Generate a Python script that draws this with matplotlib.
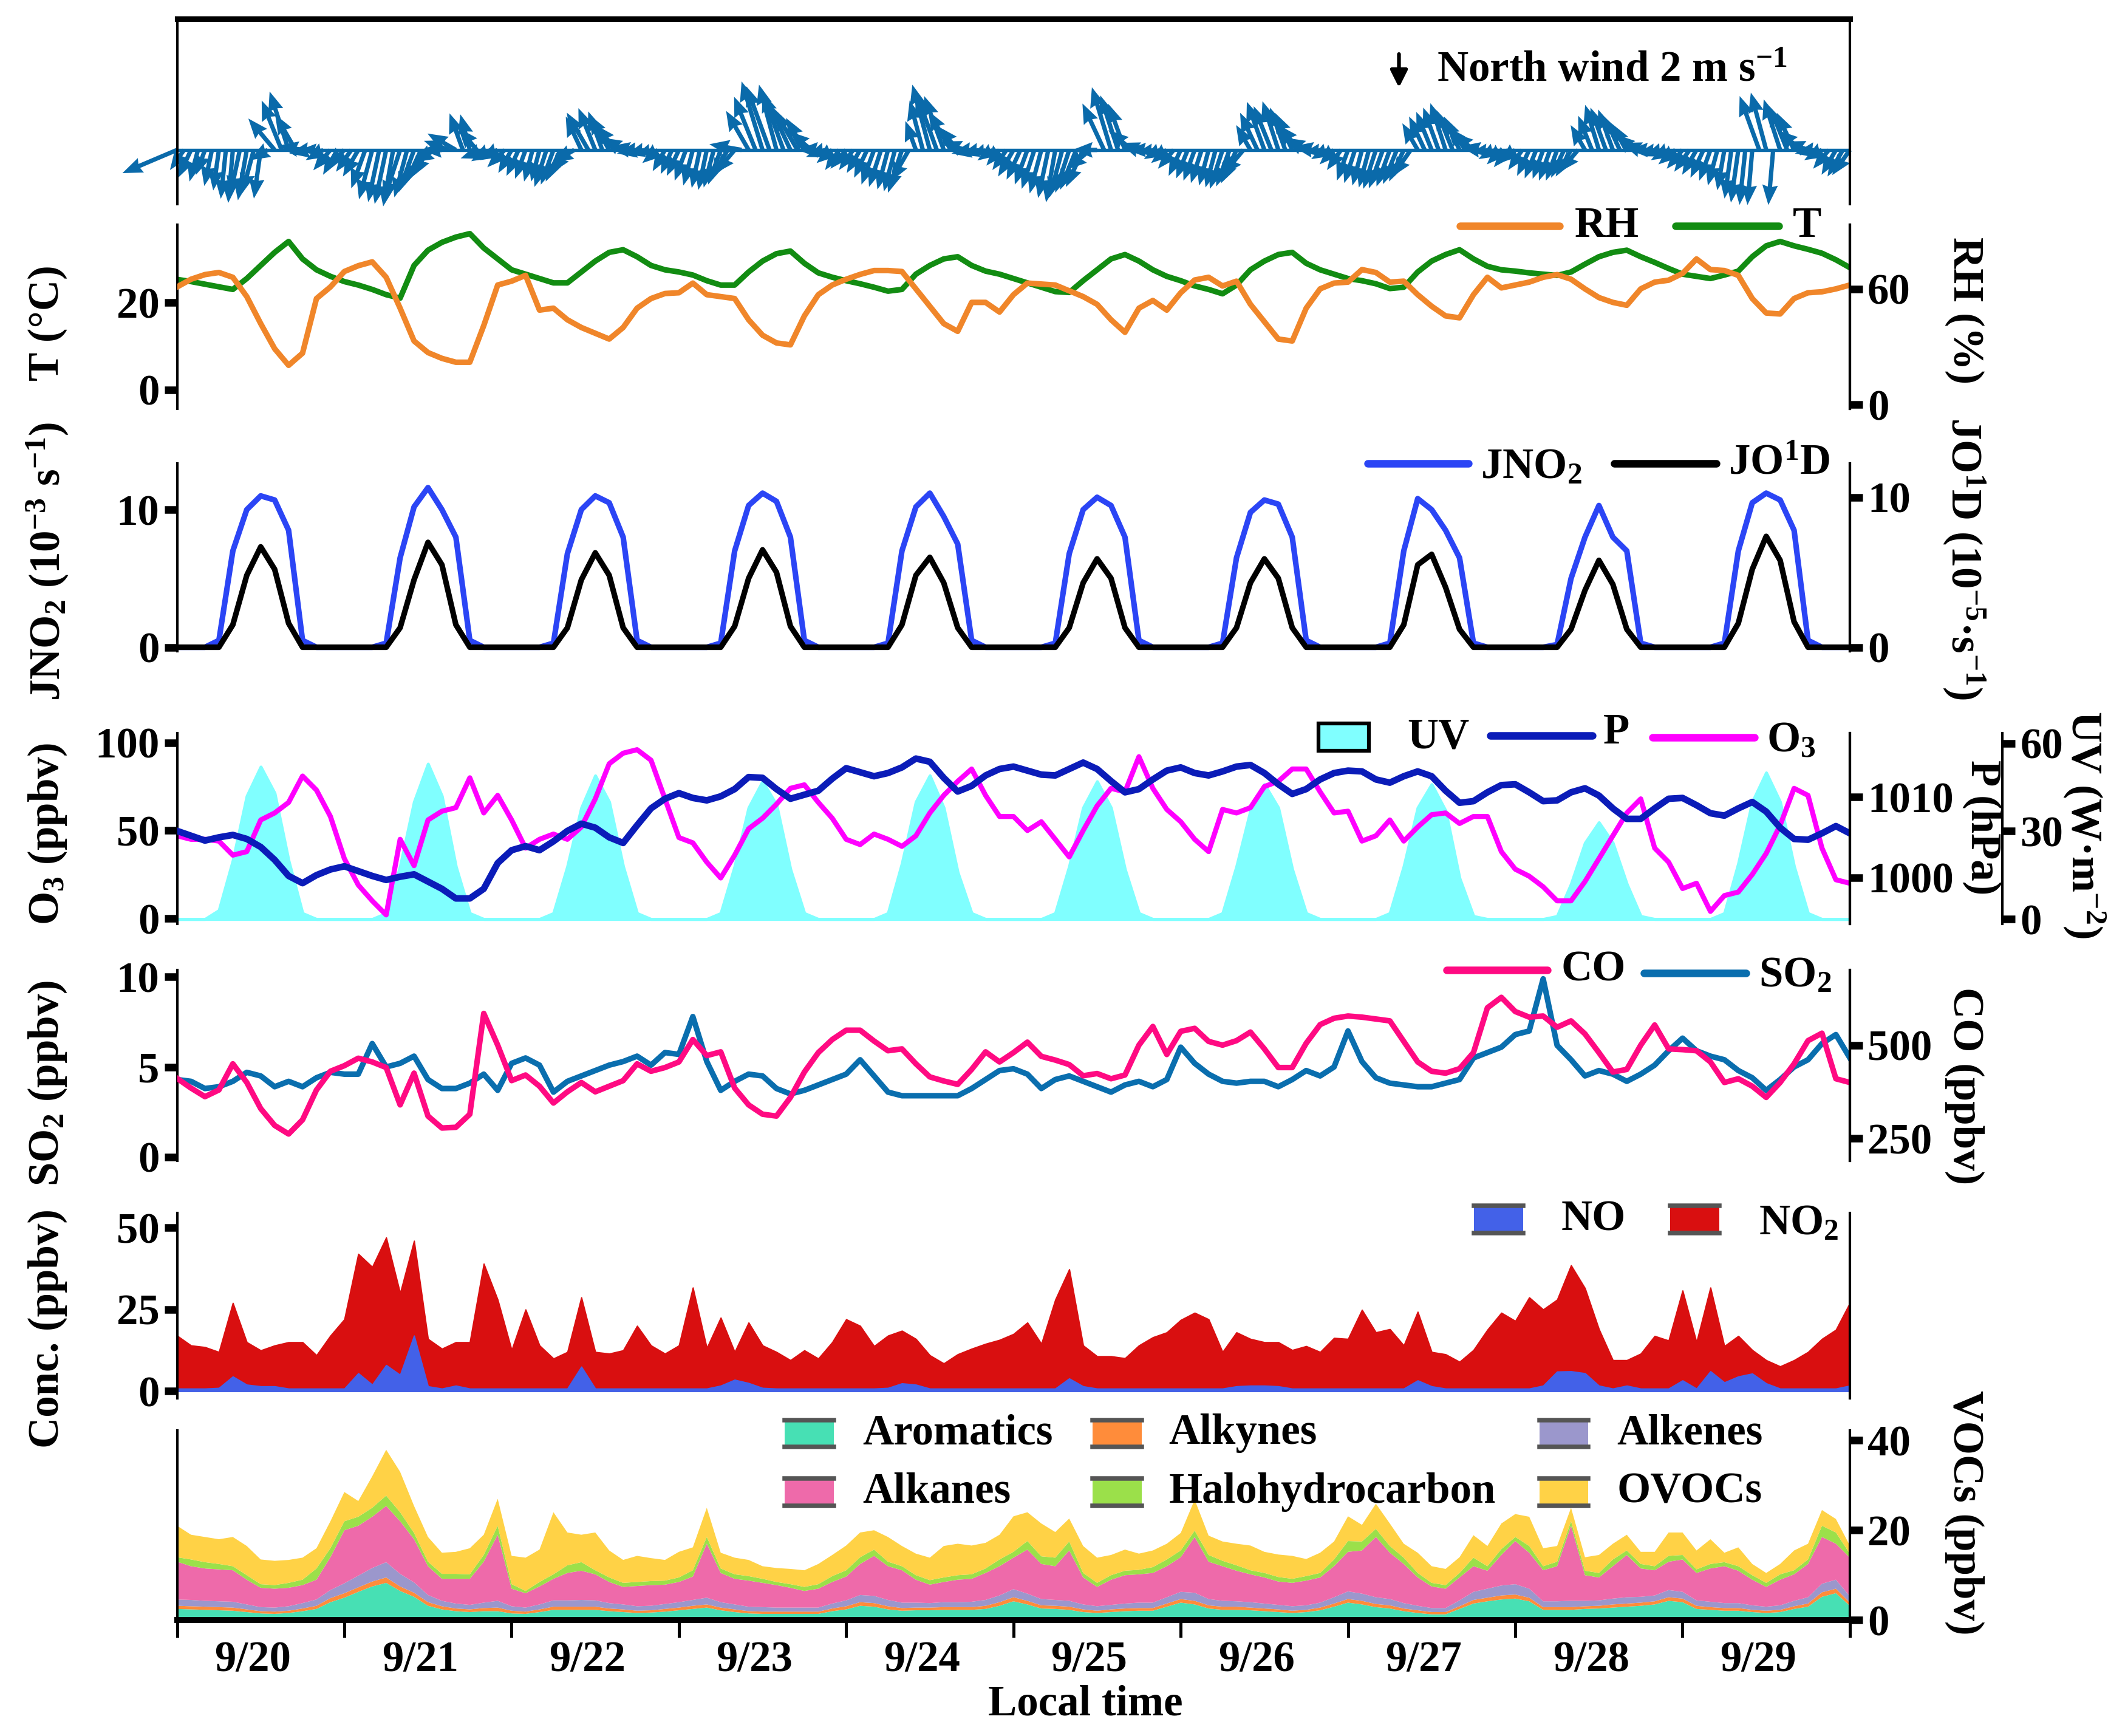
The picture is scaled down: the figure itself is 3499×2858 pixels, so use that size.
import numpy as np
import matplotlib
matplotlib.use('Agg')
import matplotlib.pyplot as plt
from matplotlib.lines import Line2D
from matplotlib.patches import Rectangle, FancyArrowPatch
from matplotlib.transforms import ScaledTranslation

plt.rcParams['font.family'] = 'Liberation Serif'
plt.rcParams['font.weight'] = 'bold'
plt.rcParams['font.size'] = 17
plt.rcParams['mathtext.fontset'] = 'custom'
plt.rcParams['mathtext.rm'] = 'Liberation Serif:bold'
plt.rcParams['mathtext.it'] = 'Liberation Serif:italic:bold'
plt.rcParams['mathtext.bf'] = 'Liberation Serif:bold'
plt.rcParams['axes.linewidth'] = 1.0

# ==================
# Data (hours since 9/20 00:00; wind hourly, the rest 2-hourly)
# ==================
t = np.arange(0, 241, 2)
t_w = np.arange(0, 241, 1)
days = ['9/20', '9/21', '9/22', '9/23', '9/24', '9/25', '9/26', '9/27', '9/28', '9/29']

# wind speed (m/s) and direction (deg, blowing from)
ws = [2.9, 1.2, 1.5, 1.6, 1.3, 1.8, 2.0, 2.4, 2.6, 2.3, 2.5, 2.2, 2.4, 1.0, 2.0, 2.6, 3.0, 2.0, 1.2, 1.0, 0.8, 1.0, 1.3, 1.4,
      1.2, 1.3, 1.5, 2.0, 2.5, 2.6, 2.7, 2.8, 2.6, 2.4, 2.2, 1.8, 1.5, 1.2, 1.0, 1.3, 1.6, 1.9, 1.8, 1.4, 1.2, 1.1, 1.0, 1.2,
      1.3, 1.4, 1.5, 1.6, 1.6, 1.9, 1.8, 1.7, 1.4, 1.2, 1.8, 2.1, 2.2, 2.0, 2.0, 1.6, 1.2, 1.0, 1.0, 0.9, 0.8, 1.0, 1.2, 1.3,
      1.4, 1.6, 1.8, 1.9, 2.0, 1.9, 1.8, 1.6, 1.5, 1.6, 2.2, 2.8, 3.5, 3.3, 3.3, 3.0, 2.5, 2.2, 1.8, 1.4, 1.0, 1.0, 1.0, 1.2,
      1.2, 1.2, 1.3, 1.5, 1.8, 1.9, 2.0, 2.1, 2.2, 1.8, 1.5, 2.5, 3.3, 3.0, 2.8, 2.2, 1.5, 1.2, 1.0, 0.9, 0.8, 0.9, 1.0, 1.2,
      1.5, 1.6, 1.8, 2.0, 2.2, 2.4, 2.6, 2.4, 2.2, 2.1, 2.0, 1.5, 1.2, 2.5, 3.2, 2.8, 2.4, 1.5, 1.0, 0.9, 0.8, 0.9, 1.0, 1.2,
      1.4, 1.5, 1.6, 1.7, 1.8, 1.9, 2.0, 1.9, 1.8, 1.6, 1.4, 2.0, 2.5, 2.3, 2.5, 2.2, 2.0, 1.6, 1.2, 1.0, 0.8, 0.9, 1.0, 1.2,
      1.6, 1.7, 1.8, 1.9, 2.0, 2.0, 1.9, 1.8, 1.7, 1.6, 1.5, 1.8, 2.0, 2.2, 2.4, 2.1, 1.8, 1.5, 1.3, 1.0, 0.8, 0.9, 1.0, 1.1,
      1.0, 1.2, 1.4, 1.5, 1.5, 1.6, 1.6, 1.5, 1.5, 1.4, 1.4, 1.8, 2.3, 2.2, 2.1, 1.8, 1.5, 1.2, 1.0, 0.9, 0.8, 0.9, 1.0, 1.1,
      1.2, 1.3, 1.4, 1.5, 1.6, 1.8, 2.0, 2.4, 2.6, 2.7, 2.7, 2.8, 2.9, 2.7, 2.6, 2.3, 2.0, 1.5, 1.2, 1.0, 1.0, 1.2, 1.4, 1.5,
      1.5]
wd = [67, 35, 25, 15, 20, 12, 8, 6, 5, 12, 10, 15, 8, 60, 140, 158, 162, 150, 100, 80, 90, 60, 40, 30,
      45, 35, 30, 20, 15, 12, 12, 10, 18, 15, 20, 25, 30, 60, 90, 110, 120, 160, 165, 140, 70, 60, 60, 45,
      30, 25, 20, 15, 15, 18, 20, 25, 35, 60, 155, 150, 158, 160, 150, 140, 120, 100, 80, 75, 70, 50, 30, 25,
      25, 20, 15, 12, 12, 15, 20, 30, 40, 100, 150, 158, 163, 160, 165, 160, 155, 150, 150, 130, 90, 70, 50, 35,
      40, 35, 30, 25, 20, 18, 15, 15, 18, 30, 160, 165, 165, 160, 160, 150, 140, 110, 80, 75, 70, 55, 40, 35,
      30, 25, 20, 18, 15, 12, 10, 15, 18, 22, 25, 50, 90, 155, 163, 162, 160, 130, 110, 90, 80, 60, 50, 40,
      25, 22, 20, 18, 15, 15, 18, 20, 25, 40, 150, 155, 160, 158, 162, 160, 155, 140, 120, 100, 80, 60, 45, 35,
      20, 18, 15, 15, 18, 20, 20, 22, 25, 35, 150, 155, 158, 160, 162, 158, 155, 140, 130, 100, 80, 60, 45, 40,
      50, 35, 25, 22, 20, 20, 20, 25, 30, 40, 150, 158, 163, 160, 160, 155, 150, 130, 110, 90, 80, 70, 60, 50,
      40, 35, 30, 25, 20, 15, 10, 8, 8, 6, 5, 160, 165, 5, 162, 158, 155, 130, 110, 80, 60, 40, 30, 30,
      35]

temp = [25.3, 24.8, 24.2, 23.6, 23.0, 25.5, 28.5, 31.5, 34.0, 30.0, 27.5, 26.0,
        24.8, 24.0, 23.0, 21.8, 21.0, 28.5, 32.0, 33.8, 35.0, 35.8, 32.5, 30.0,
        27.5, 26.5, 25.5, 24.5, 24.5, 27.0, 29.5, 31.5, 32.1, 30.5, 28.5, 27.5,
        27.0, 26.3, 25.0, 24.0, 24.0, 27.0, 29.5, 31.2, 31.8, 29.0, 26.8, 25.8,
        25.0, 24.3, 23.5, 22.6, 23.0, 26.5, 28.5, 30.0, 30.5, 28.5, 27.2, 26.5,
        25.5, 24.5, 23.5, 22.5, 22.3, 25.0, 27.5, 30.0, 31.0, 29.5, 27.5, 26.0,
        25.0, 23.8, 23.0, 22.0, 24.0, 27.5, 29.5, 31.0, 31.5, 29.0, 27.5, 26.5,
        25.5, 25.0, 24.3, 23.2, 23.5, 27.0, 29.5, 31.0, 32.1, 30.0, 28.3, 27.5,
        27.2, 26.8, 26.5, 26.2, 27.0, 28.8, 30.5, 31.5, 32.0, 30.5, 29.2, 27.8,
        26.5, 26.0, 25.5, 26.3, 27.2, 30.5, 33.0, 34.0, 33.0, 32.2, 31.3, 29.8, 28.0]
rh = [61, 65, 67.4, 68.5, 66, 56, 42, 29, 20.4, 26.7, 55, 61,
      69, 72, 74, 66, 50, 33, 27, 24, 22, 22, 41, 62,
      64, 67, 49, 50, 44, 40, 37, 34, 40, 50, 55, 57.6,
      58, 63, 57, 56, 55, 44, 36, 32, 31, 46, 57, 62,
      65, 67.5, 69.5, 69.5, 69, 60, 51, 42, 38, 53, 53, 48,
      57, 63, 62.5, 62, 59, 56, 52, 44, 37.5, 50, 54, 49,
      58, 64.6, 66, 61.5, 64, 52, 43, 34, 33, 50, 60, 63,
      63.5, 70, 68.5, 63.5, 64, 57, 51, 46, 45, 57, 66, 60.5,
      62, 63.5, 66, 67.4, 65, 60, 55.5, 53, 51.5, 60, 63.5, 64.5,
      68, 75.5, 70, 69.5, 67, 55, 47.5, 47, 55, 58, 58.5, 60, 62]

jno2 = [0, 0, 0, 0.5, 7.0, 10.0, 11.0, 10.7, 8.5, 0.5, 0, 0,
        0, 0, 0, 0.3, 6.5, 10.2, 11.6, 10.0, 8.0, 0.5, 0, 0,
        0, 0, 0, 0.3, 6.8, 10.0, 11.0, 10.5, 8.0, 0.5, 0, 0,
        0, 0, 0, 0.3, 7.0, 10.3, 11.2, 10.6, 8.0, 0.5, 0, 0,
        0, 0, 0, 0.3, 7.0, 10.2, 11.2, 9.5, 7.5, 0.5, 0, 0,
        0, 0, 0, 0.3, 6.8, 10.0, 10.9, 10.3, 8.0, 0.5, 0, 0,
        0, 0, 0, 0.3, 6.5, 9.8, 10.7, 10.4, 8.0, 0.5, 0, 0,
        0, 0, 0, 0.3, 7.0, 10.8, 10.0, 8.5, 6.5, 0.3, 0, 0,
        0, 0, 0, 0.2, 5.0, 8.0, 10.3, 8.0, 7.0, 0.3, 0, 0,
        0, 0, 0, 0.3, 7.0, 10.5, 11.2, 10.7, 8.5, 0.5, 0, 0, 0]
jo1d = [0, 0, 0, 0, 1.5, 4.8, 6.7, 5.2, 1.6, 0, 0, 0,
        0, 0, 0, 0, 1.3, 4.5, 7.0, 5.5, 1.5, 0, 0, 0,
        0, 0, 0, 0, 1.3, 4.5, 6.3, 4.8, 1.3, 0, 0, 0,
        0, 0, 0, 0, 1.4, 4.6, 6.5, 5.0, 1.4, 0, 0, 0,
        0, 0, 0, 0, 1.5, 4.8, 6.0, 4.3, 1.3, 0, 0, 0,
        0, 0, 0, 0, 1.3, 4.3, 5.9, 4.6, 1.3, 0, 0, 0,
        0, 0, 0, 0, 1.3, 4.3, 5.9, 4.6, 1.3, 0, 0, 0,
        0, 0, 0, 0, 1.5, 5.5, 6.2, 4.0, 1.2, 0, 0, 0,
        0, 0, 0, 0, 1.2, 3.8, 5.8, 4.2, 1.2, 0, 0, 0,
        0, 0, 0, 0, 1.6, 5.2, 7.4, 5.8, 1.7, 0, 0, 0, 0]

uv = [0, 0, 0, 3, 20, 42, 52, 43, 20, 2, 0, 0,
      0, 0, 0, 2, 18, 40, 53, 42, 18, 2, 0, 0,
      0, 0, 0, 2, 18, 38, 49, 40, 18, 2, 0, 0,
      0, 0, 0, 2, 18, 38, 47, 39, 17, 2, 0, 0,
      0, 0, 0, 2, 19, 40, 49, 38, 16, 2, 0, 0,
      0, 0, 0, 2, 18, 38, 47, 38, 17, 2, 0, 0,
      0, 0, 0, 2, 18, 37, 46, 38, 17, 2, 0, 0,
      0, 0, 0, 2, 18, 38, 46, 37, 14, 1, 0, 0,
      0, 0, 0, 1, 12, 26, 33, 26, 12, 1, 0, 0,
      0, 0, 0, 2, 19, 40, 50, 40, 18, 2, 0, 0, 0]
pres = [1005.8, 1005.2, 1004.6, 1005.0, 1005.3, 1004.8, 1003.8, 1002.2, 1000.2, 999.3, 1000.3, 1001.0,
        1001.4, 1000.8, 1000.2, 999.7, 1000.1, 1000.4, 999.5, 998.6, 997.4, 997.4, 998.6, 1001.8,
        1003.4, 1003.9, 1003.4, 1004.5, 1005.8, 1006.7, 1006.2, 1005.0, 1004.3, 1006.5, 1008.6, 1009.8,
        1010.5, 1009.9, 1009.6, 1010.1, 1011.0, 1012.5, 1012.4, 1011.0, 1009.8, 1010.3, 1010.8, 1012.3,
        1013.6, 1013.1, 1012.6, 1013.0, 1013.7, 1014.8, 1014.4, 1012.4, 1010.7, 1011.4, 1012.7, 1013.5,
        1013.8, 1013.3, 1012.8, 1012.7, 1013.5, 1014.3, 1013.5, 1012.0, 1010.6, 1011.0, 1012.2, 1013.3,
        1013.7, 1013.0, 1012.7, 1013.2, 1013.8, 1014.0, 1013.0, 1011.6, 1010.4, 1011.0, 1012.2, 1013.0,
        1013.3, 1013.2, 1012.2, 1011.8, 1012.6, 1013.2, 1012.6, 1010.8, 1009.3, 1009.5, 1010.6, 1011.5,
        1011.6, 1010.6, 1009.5, 1009.6, 1010.6, 1011.1, 1010.2, 1008.6, 1007.3, 1007.3, 1008.6, 1009.8,
        1009.9, 1009.0, 1008.0, 1007.7, 1008.6, 1009.4, 1008.2, 1006.2, 1004.8, 1004.7, 1005.5, 1006.4, 1005.5]
o3 = [47, 45, 45, 44, 36, 38, 56, 60, 66, 81, 73, 58,
      34, 19, 10, 2, 45, 30, 56, 61, 63, 80, 60, 70,
      56, 40, 45, 48, 45, 52, 68, 88, 94, 96, 90, 68,
      46, 43, 32, 23, 36, 51, 57, 65, 74, 76, 66, 57,
      45, 42, 48, 45, 41, 47, 60, 70, 78, 85, 70, 58,
      58, 50, 55, 45, 35, 50, 64, 74, 72, 92, 74, 62,
      55, 45, 38, 62, 60, 63, 75, 78, 85, 85, 72, 60,
      61, 44, 47, 56, 44, 52, 59, 60, 54, 58, 58, 38,
      28, 24, 18, 10, 10, 21, 34, 47, 60, 68, 40, 32,
      17, 20, 4, 13, 15, 25, 37, 53, 74, 70, 40, 22, 20]

so2 = [4.3, 4.2, 3.8, 3.9, 4.2, 4.7, 4.5, 3.9, 4.2, 3.9, 4.4, 4.7,
       4.6, 4.6, 6.3, 5.0, 5.2, 5.6, 4.3, 3.8, 3.8, 4.1, 4.6, 3.7,
       5.2, 5.5, 5.1, 3.6, 4.2, 4.5, 4.8, 5.1, 5.3, 5.6, 5.1, 5.8,
       5.7, 7.8, 5.3, 3.7, 4.2, 4.6, 4.5, 3.8, 3.5, 3.7, 4.0, 4.3,
       4.6, 5.4, 4.5, 3.6, 3.4, 3.4, 3.4, 3.4, 3.4, 3.8, 4.3, 4.8,
       4.9, 4.6, 3.8, 4.3, 4.5, 4.2, 3.9, 3.6, 4.0, 4.2, 3.9, 4.3,
       6.1, 5.2, 4.6, 4.2, 4.1, 4.2, 4.2, 3.9, 4.3, 4.8, 4.5, 5.0,
       7.0, 5.3, 4.4, 4.1, 4.0, 3.9, 3.9, 4.1, 4.3, 5.5, 5.8, 6.1,
       6.8, 7.0, 9.9, 6.2, 5.4, 4.5, 4.8, 4.6, 4.2, 4.6, 5.1, 5.9,
       6.6, 5.9, 5.6, 5.4, 4.8, 4.4, 3.7, 4.3, 5.0, 5.4, 6.3, 6.8, 5.5]
co = [411, 385, 362, 380, 450, 400, 330, 285, 262, 300, 380, 430,
      445, 465, 455, 440, 340, 425, 310, 278, 280, 315, 585, 500,
      405, 420, 390, 345, 375, 400, 375, 390, 405, 450, 430, 440,
      455, 515, 472, 482, 385, 340, 315, 310, 360, 428, 480, 515,
      540, 540, 511, 485, 490, 450, 415, 404, 395, 435, 482, 455,
      480, 508, 470, 460, 448, 418, 424, 410, 420, 500, 550, 475,
      537, 545, 510, 500, 512, 535, 490, 440, 440, 505, 555, 572,
      578, 575, 570, 565, 510, 455, 430, 425, 437, 480, 600, 628,
      590, 575, 578, 548, 565, 530, 480, 428, 435, 500, 554, 490,
      488, 485, 455, 400, 410, 390, 360, 400, 450, 512, 532, 410, 400]

no2 = [17, 14, 13.5, 12, 27, 15, 12.5, 14, 15, 15, 11, 17,
       22, 42, 38, 47, 30, 46, 16, 13, 15, 15, 39, 28,
       12.6, 25, 14, 10, 12, 28.7, 12, 11.5, 12.5, 20, 14, 11.5,
       14, 31.7, 13.2, 22.5, 12, 21, 14, 12, 9.5, 12.5, 10, 15,
       22, 20, 13.8, 17, 18.5, 16, 11, 8.5, 11.3, 13, 14.5, 15.7,
       17.5, 21, 14.5, 28, 37.3, 14, 10.7, 10.7, 10.1, 14, 16.5, 18,
       21.8, 24, 22, 12, 18, 16, 15, 15, 12.6, 13.8, 12, 16.3,
       16, 24.9, 18, 19, 14, 24.3, 12, 11.3, 9, 12.6, 18.8, 24,
       21.5, 28.7, 25, 28, 38.5, 31.5, 19, 9.5, 9.5, 11.5, 16.9, 15.5,
       30.8, 15, 31.7, 13.8, 16.9, 12.6, 9.5, 7.6, 9.5, 12, 16, 18.8, 27]
no = [0.8, 0.8, 0.8, 1.0, 4.5, 2.0, 1.5, 1.5, 0.8, 0.8, 0.8, 0.8,
      0.8, 5.5, 2.0, 8.0, 5.0, 17.0, 1.5, 0.8, 1.7, 0.8, 0.8, 0.8,
      0.8, 0.8, 0.8, 0.8, 0.8, 7.5, 0.8, 0.8, 0.8, 0.8, 0.8, 0.8,
      0.8, 0.8, 0.8, 1.7, 3.5, 2.5, 1.0, 0.8, 0.8, 0.8, 0.8, 0.8,
      0.8, 0.8, 0.8, 1.0, 2.4, 2.0, 0.8, 0.8, 0.8, 0.8, 0.8, 0.8,
      0.8, 0.8, 0.8, 0.8, 3.9, 1.5, 0.8, 0.8, 0.8, 0.8, 0.8, 0.8,
      0.8, 0.8, 0.8, 0.8, 1.5, 1.7, 1.7, 1.5, 0.8, 0.8, 0.8, 0.8,
      0.8, 0.8, 0.8, 0.8, 0.8, 3.3, 1.5, 0.8, 0.8, 0.8, 0.8, 0.8,
      0.8, 0.8, 1.7, 6.0, 6.1, 5.5, 1.7, 0.8, 1.7, 0.8, 0.8, 0.8,
      3.3, 0.8, 6.1, 2.7, 4.5, 5.4, 2.4, 0.8, 0.8, 0.8, 0.8, 0.8, 1.7]

aromatics = [2.5, 2.4, 2.3, 2.2, 2.1, 1.8, 1.5, 1.4, 1.6, 2.0, 2.5, 4.0,
             5.0, 6.3, 7.5, 8.3, 6.5, 5.2, 3.2, 2.4, 2.0, 1.8, 2.0, 2.0,
             1.5, 1.4, 1.8, 2.3, 2.3, 2.3, 2.3, 2.0, 1.8, 1.6, 1.7, 1.9,
             2.2, 2.5, 2.8, 2.2, 1.8, 1.5, 1.4, 1.4, 1.4, 1.4, 1.4, 2.0,
             2.4, 3.2, 3.0, 2.4, 2.1, 2.2, 2.2, 2.3, 2.3, 2.3, 2.5, 3.2,
             4.2, 3.5, 2.6, 2.5, 2.3, 1.8, 1.6, 1.8, 2.0, 2.1, 2.1, 3.0,
             3.9, 3.5, 2.6, 2.3, 2.3, 2.2, 2.0, 1.8, 1.6, 1.8, 2.2, 3.0,
             3.9, 3.5, 2.9, 2.6, 2.0, 1.6, 1.3, 1.3, 2.5, 3.7, 4.2, 4.6,
             4.8, 4.2, 2.3, 2.3, 2.3, 2.5, 2.6, 2.8, 3.0, 3.2, 3.5, 4.3,
             4.0, 2.5, 2.3, 2.1, 2.1, 1.8, 1.6, 1.8, 2.5, 3.0, 5.2, 6.0, 3.2]
alkynes = [0.7, 0.7, 0.7, 0.7, 0.7, 0.6, 0.5, 0.5, 0.5, 0.6, 0.7, 0.9,
           1.0, 1.0, 1.1, 1.2, 1.0, 0.9, 0.8, 0.7, 0.6, 0.6, 0.7, 0.8,
           0.6, 0.5, 0.6, 0.7, 0.7, 0.7, 0.7, 0.6, 0.6, 0.5, 0.5, 0.6,
           0.6, 0.7, 0.7, 0.6, 0.6, 0.5, 0.5, 0.5, 0.5, 0.5, 0.5, 0.6,
           0.7, 0.8, 0.8, 0.7, 0.6, 0.6, 0.6, 0.6, 0.6, 0.6, 0.7, 0.8,
           0.9, 0.8, 0.7, 0.7, 0.7, 0.6, 0.5, 0.6, 0.6, 0.6, 0.6, 0.7,
           0.8, 0.8, 0.7, 0.7, 0.7, 0.6, 0.6, 0.6, 0.5, 0.5, 0.6, 0.7,
           0.8, 0.8, 0.7, 0.7, 0.6, 0.6, 0.5, 0.5, 0.6, 0.8, 0.8, 0.9,
           0.9, 0.8, 0.6, 0.6, 0.6, 0.6, 0.6, 0.7, 0.7, 0.7, 0.7, 0.8,
           0.8, 0.7, 0.6, 0.6, 0.6, 0.5, 0.5, 0.5, 0.6, 0.7, 1.0, 1.0, 0.7]
alkenes = [1.4, 1.4, 1.3, 1.3, 1.3, 1.1, 0.9, 0.9, 1.0, 1.2, 1.4, 1.8,
           2.2, 2.6, 3.0, 3.4, 2.8, 2.3, 1.6, 1.2, 1.1, 1.0, 1.2, 1.5,
           1.0, 0.9, 1.1, 1.4, 1.4, 1.5, 1.4, 1.2, 1.1, 1.0, 1.0, 1.1,
           1.2, 1.3, 1.5, 1.2, 1.1, 1.0, 1.0, 0.9, 0.9, 0.9, 0.9, 1.1,
           1.3, 1.6, 1.6, 1.4, 1.2, 1.1, 1.0, 1.1, 1.1, 1.2, 1.3, 1.5,
           1.8, 1.6, 1.4, 1.3, 1.3, 1.1, 1.0, 1.0, 1.1, 1.2, 1.2, 1.4,
           1.6, 1.8, 1.4, 1.3, 1.2, 1.2, 1.1, 1.0, 1.0, 1.0, 1.1, 1.4,
           1.7, 1.6, 1.5, 1.4, 1.2, 1.0, 0.9, 0.9, 1.3, 1.8, 2.0, 2.2,
           2.3, 2.0, 1.3, 1.3, 1.4, 1.2, 1.2, 1.3, 1.4, 1.3, 1.3, 1.6,
           1.5, 1.2, 1.2, 1.1, 1.1, 1.0, 0.9, 1.0, 1.2, 1.4, 1.9, 2.0, 1.4]
alkanes = [8.4, 7.5, 7.2, 7.1, 7.0, 5.5, 4.3, 4.2, 4.1, 4.0, 4.4, 7.3,
           11.8, 11.1, 11.4, 12.5, 11.7, 9.6, 6.4, 4.9, 5.5, 5.8, 9.1, 14.7,
           3.9, 3.2, 4.0, 4.8, 6.1, 6.5, 5.8, 4.7, 3.9, 4.5, 4.6, 4.3,
           4.5, 5.2, 12.0, 6.5, 5.7, 5.8, 5.4, 5.0, 4.4, 3.7, 4.2, 4.8,
           5.3, 6.9, 8.9, 7.5, 7.2, 5.1, 4.1, 4.5, 5.0, 5.1, 6.0, 6.5,
           7.0, 9.8, 7.8, 7.5, 11.2, 6.0, 4.3, 5.6, 6.3, 6.3, 6.6, 6.9,
           7.7, 12.4, 8.3, 7.7, 6.8, 6.2, 5.8, 5.2, 5.2, 5.5, 5.6, 6.9,
           8.8, 9.6, 13.4, 10.3, 8.7, 6.3, 4.8, 4.3, 5.1, 5.7, 4.0, 6.8,
           9.6, 8.0, 6.9, 7.8, 16.7, 5.7, 5.1, 7.2, 9.4, 6.3, 5.6, 6.3,
           7.2, 6.1, 7.4, 8.2, 7.2, 5.7, 4.4, 5.7, 5.9, 7.4, 10.4, 8.0, 8.6]
halo = [1.0, 1.5, 1.4, 1.2, 0.9, 1.0, 0.8, 0.8, 1.1, 1.2, 2.5, 2.0,
        2.0, 2.0, 2.0, 2.3, 2.0, 1.4, 1.0, 1.1, 1.1, 1.0, 1.5, 2.0,
        1.0, 0.5, 1.0, 1.0, 1.7, 1.9, 0.9, 1.0, 0.9, 0.9, 0.9, 0.9,
        1.0, 1.4, 1.5, 1.0, 1.0, 1.0, 0.9, 0.7, 0.8, 0.9, 1.0, 1.3,
        1.4, 1.5, 1.4, 1.0, 0.9, 1.0, 1.0, 1.0, 1.0, 1.0, 1.0, 1.5,
        1.3, 1.9, 1.7, 1.9, 2.0, 1.0, 0.9, 1.0, 1.0, 1.0, 1.3, 1.5,
        1.5, 1.4, 1.5, 1.2, 1.2, 0.9, 1.0, 1.0, 0.9, 1.0, 1.0, 1.5,
        2.4, 2.0, 1.8, 1.5, 1.4, 1.0, 0.8, 0.8, 1.0, 1.9, 1.0, 1.3,
        0.9, 1.5, 0.9, 1.0, 1.0, 1.0, 1.0, 1.5, 1.0, 1.0, 0.9, 1.3,
        1.0, 0.8, 1.0, 0.9, 1.0, 1.0, 0.9, 1.2, 0.9, 1.0, 2.5, 2.5, 0.9]
ovocs = [7.0, 5.5, 5.6, 5.5, 6.5, 6.5, 5.5, 5.4, 5.1, 4.9, 4.5, 6.0,
         6.5, 3.5, 7.0, 10.2, 9.0, 6.0, 5.5, 4.7, 4.9, 5.8, 4.5, 6.0,
         6.3, 7.4, 7.2, 13.8, 7.3, 6.1, 8.4, 6.0, 5.1, 5.8, 5.1, 4.6,
         5.7, 5.1, 6.5, 3.5, 3.7, 3.6, 2.8, 3.1, 3.4, 3.7, 4.5, 4.7,
         5.5, 5.5, 4.3, 5.5, 4.5, 4.8, 5.0, 7.0, 7.0, 6.4, 5.7, 5.5,
         7.9, 6.4, 7.3, 5.7, 5.1, 6.0, 5.6, 4.5, 4.7, 3.6, 3.7, 3.5,
         3.9, 6.9, 4.3, 4.3, 4.8, 5.5, 4.7, 5.0, 5.1, 3.8, 4.5, 4.0,
         5.5, 3.7, 5.6, 5.0, 3.1, 4.5, 3.7, 3.6, 3.5, 5.0, 4.5, 5.7,
         5.1, 6.5, 4.0, 3.5, 3.0, 3.0, 4.0, 3.5, 3.5, 2.7, 3.2, 5.2,
         5.0, 4.2, 5.5, 2.1, 4.2, 2.5, 2.2, 2.3, 4.4, 3.5, 3.5, 3.0, 1.8]

voc_names = ['Aromatics', 'Alkynes', 'Alkenes', 'Alkanes', 'Halohydrocarbon', 'OVOCs']
voc_colors = ['#47E0B4', '#FF8C3A', '#9B97CC', '#EE6AAA', '#9BE04A', '#FFD246']

c_wind = '#0A6AAA'
c_t, c_rh = '#128C12', '#F0862A'
c_jno2 = '#2B45F5'
c_uv, c_p, c_o3 = '#80FFFF', '#0B1CB8', '#FF00FF'
c_co, c_so2 = '#FF0A82', '#0A6EAE'
c_no, c_no2 = '#4361E8', '#D90F10'

# ==================
# Layout helpers (positions in a 1560 x 1274 reference frame)
# ==================
fig = plt.figure(figsize=(3499 / 300, 2858 / 300), dpi=300)
W, H = 1560.0, 1274.0
X0, X1 = 130.0, 1358.0


def fy(y):
    return 1 - y / H


def add_panel(top, bot):
    ax = fig.add_axes([X0 / W, fy(bot), (X1 - X0) / W, (bot - top) / H])
    ax.set_xlim(0, 240)
    for s in ('top', 'bottom'):
        ax.spines[s].set_visible(False)
    ax.tick_params(axis='x', which='both', bottom=False, labelbottom=False)
    ax.tick_params(axis='y', direction='out', length=5, width=3, pad=2, labelsize=17)
    return ax


def add_twin(ax):
    tw = ax.twinx()
    for s in ('top', 'bottom', 'left'):
        tw.spines[s].set_visible(False)
    tw.tick_params(axis='y', direction='out', length=5, width=3, pad=2, labelsize=17)
    return tw


def lim(v1, y1, v2, y2, top, bot):
    k = (v2 - v1) / (y2 - y1)
    return v1 + (bot - y1) * k, v1 + (top - y1) * k


def ftxt(x, y, s, **kw):
    fig.text(x / W, fy(y), s, fontsize=kw.pop('fontsize', 17), **kw)


def leg_line(x1, x2, y, c):
    fig.add_artist(Line2D([x1 / W, x2 / W], [fy(y), fy(y)], color=c, lw=3,
                          solid_capstyle='round'))


def leg_patch(x1, x2, y, c, edge='#555555', full=False):
    fig.add_artist(Rectangle((x1 / W, fy(y + 10)), (x2 - x1) / W, 20 / H,
                             facecolor=c, edgecolor=edge if full else 'none',
                             lw=1.5, transform=fig.transFigure))
    if not full:
        for yy in (y - 10, y + 10):
            fig.add_artist(Line2D([x1 / W, x2 / W], [fy(yy), fy(yy)],
                                  color=edge, lw=1.8))


# ==================
# 1. Wind
# ==================
ax1 = fig.add_axes([X0 / W, fy(150), (X1 - X0) / W, 136 / H])
ax1.set_xlim(0, 240)
ax1.set_ylim(-0.294, 0.706)
ax1.set_xticks([])
ax1.set_yticks([])
ax1.spines['bottom'].set_visible(False)
ax1.spines['top'].set_linewidth(2.2)
rad = np.deg2rad(wd)
u = -np.array(ws) * np.sin(rad)
v = -np.array(ws) * np.cos(rad)
ax1.axhline(0, color=c_wind, lw=1.3)
q = ax1.quiver(t_w, np.zeros(len(t_w)), u, v, color=c_wind, angles='uv',
               scale_units='inches', scale=8.9, width=0.0026,
               headwidth=3.6, headlength=4.6, headaxislength=4.2, pivot='tail')
q.set_clip_on(False)
fig.add_artist(FancyArrowPatch(
    (1027 / W, fy(36)), (1027 / W, fy(68)), transform=fig.transFigure,
    arrowstyle='-|>', mutation_scale=14, color='k', lw=1.5))
ftxt(1055, 52, r'North wind 2 m s$^{-1}$', va='center', ha='left')

# ==================
# 2. T / RH
# ==================
ax_t = add_panel(165, 300)
ax_t.plot(t, temp, color=c_t, lw=2.2)
ax_t.set_ylim(lim(20, 222, 0, 286, 165, 300))
ax_t.set_yticks([0, 20])
ax_rh = add_twin(ax_t)
ax_rh.plot(t, rh, color=c_rh, lw=2.2)
ax_rh.set_ylim(lim(60, 212, 0, 297, 165, 300))
ax_rh.set_yticks([0, 60])
leg_line(1072, 1145, 166, c_rh)
ftxt(1156, 166, 'RH', va='center')
leg_line(1230, 1306, 166, c_t)
ftxt(1316, 166, 'T', va='center')
ftxt(35, 237, 'T (°C)', rotation=90, ha='center', va='center')
ftxt(1442, 228, 'RH (%)', rotation=-90, ha='center', va='center')

# ==================
# 3. Photolysis
# ==================
ax_j = add_panel(340, 478)
ax_j.plot(t, jno2, color=c_jno2, lw=2.2)
ax_j.set_ylim(lim(10, 374, 0, 475, 340, 478))
ax_j.set_yticks([0, 10])
ax_jo = add_twin(ax_j)
ax_jo.plot(t, jo1d, color='k', lw=2.2)
ax_jo.set_ylim(lim(10, 365, 0, 475, 340, 478))
ax_jo.set_yticks([0, 10])
leg_line(1004, 1078, 340, c_jno2)
ftxt(1087, 343, r'JNO$_2$', va='center')
leg_line(1185, 1260, 340, 'k')
ftxt(1269, 340, r'JO$^1$D', va='center')
ftxt(35, 412, r'JNO$_2$ (10$^{-3}$ s$^{-1}$)', rotation=90, ha='center', va='center')
ftxt(1442, 410, r'JO$^1$D (10$^{-5}$·s$^{-1}$)', rotation=-90, ha='center', va='center')

# ==================
# 4. UV / P / O3
# ==================
ax_o3 = add_panel(538, 678)
ax_p = add_twin(ax_o3)
ax_uv = add_twin(ax_o3)
ax_uv.set_zorder(1)
ax_o3.set_zorder(2)
ax_p.set_zorder(3)
ax_o3.patch.set_visible(False)
ax_uv.spines['right'].set_position(('axes', (1470 - X0) / (X1 - X0)))
ax_uv.fill_between(t, 0, uv, facecolor=c_uv, edgecolor=c_uv, lw=1.2)
ax_uv.set_ylim(lim(60, 545.5, 0, 674.5, 538, 678))
ax_uv.set_yticks([0, 30, 60])
ax_o3.plot(t, o3, color=c_o3, lw=2.0)
ax_o3.set_ylim(lim(100, 545, 0, 674, 538, 678))
ax_o3.set_yticks([0, 50, 100])
ax_p.plot(t, pres, color=c_p, lw=2.6)
ax_p.set_ylim(lim(1010, 585, 1000, 644, 538, 678))
ax_p.set_yticks([1000, 1010])
leg_patch(968, 1005, 541, c_uv, edge='k', full=True)
ftxt(1033, 541, 'UV', va='center')
leg_line(1094, 1169, 540, c_p)
ftxt(1177, 538, 'P', va='center')
leg_line(1213, 1288, 541, c_o3)
ftxt(1297, 544, r'O$_3$', va='center')
ftxt(35, 612, r'O$_3$ (ppbv)', rotation=90, ha='center', va='center')
ftxt(1455, 607, 'P (hPa)', rotation=-90, ha='center', va='center')
ftxt(1530, 605, r'UV (W·m$^{-2}$)', rotation=-90, ha='center', va='center')

# ==================
# 5. SO2 / CO
# ==================
ax_s = add_panel(712, 852)
ax_s.plot(t, so2, color=c_so2, lw=2.2)
ax_s.set_ylim(lim(10, 717, 0, 849, 712, 852))
ax_s.set_yticks([0, 5, 10])
ax_co = add_twin(ax_s)
ax_co.plot(t, co, color=c_co, lw=2.2)
ax_co.set_ylim(lim(500, 767, 250, 835.5, 712, 852))
ax_co.set_yticks([250, 500])
leg_line(1062, 1136, 712, c_co)
ftxt(1146, 712, 'CO', va='center')
leg_line(1207, 1282, 714, c_so2)
ftxt(1291, 716, r'SO$_2$', va='center')
ftxt(35, 795, r'SO$_2$ (ppbv)', rotation=90, ha='center', va='center')
ftxt(1442, 797, 'CO (ppbv)', rotation=-90, ha='center', va='center')

# ==================
# 6. NO / NO2
# ==================
ax_n = add_panel(890, 1026)
ax_n.fill_between(t, 0, no2, facecolor=c_no2, edgecolor=c_no2, lw=0.5)
ax_n.fill_between(t, 0, no, facecolor=c_no, edgecolor=c_no, lw=0.5)
ax_n.set_ylim(lim(50, 901, 0, 1021, 890, 1026))
ax_n.set_yticks([0, 25, 50])
leg_patch(1082, 1118, 895, c_no)
ftxt(1146, 895, 'NO', va='center')
leg_patch(1226, 1262, 895, c_no2)
ftxt(1291, 898, r'NO$_2$', va='center')
ftxt(35, 975, 'Conc. (ppbv)', rotation=90, ha='center', va='center')

# ==================
# 7. VOCs
# ==================
ax_v = fig.add_axes([X0 / W, fy(1189), (X1 - X0) / W, (1189 - 1050) / H])
ax_v.set_xlim(0, 240)
ax_v.stackplot(t, aromatics, alkynes, alkenes, alkanes, halo, ovocs,
               colors=voc_colors, lw=0)
ax_v.set_ylim(lim(40, 1057, 0, 1189, 1050, 1189))
ax_v.spines['top'].set_visible(False)
ax_v.spines['bottom'].set_linewidth(2.4)
ax_v.yaxis.tick_right()
ax_v.set_yticks([0, 20, 40])
ax_v.tick_params(axis='y', direction='out', length=5, width=3, pad=2, labelsize=17)
ax_v.set_xticks(np.arange(0, 241, 24))
ax_v.set_xticklabels([])
ax_v.set_xticks(np.arange(12, 240, 24), minor=True)
ax_v.set_xticklabels(days, minor=True)
ax_v.tick_params(axis='x', which='major', direction='out', length=7, width=1.2)
ax_v.tick_params(axis='x', which='minor', length=0, pad=8, labelsize=17)
shift = ScaledTranslation(-13 / 300, 0, fig.dpi_scale_trans)
for lab in ax_v.get_xticklabels(minor=True):
    lab.set_transform(lab.get_transform() + shift)
ftxt(1442, 1110, 'VOCs (ppbv)', rotation=-90, ha='center', va='center')
ftxt(797, 1251, 'Local time', ha='center', va='center')

rows = [1052, 1095]
cols = [(576, 612, 633), (802, 838, 858), (1130, 1166, 1187)]
for i, (name, col) in enumerate(zip(voc_names, voc_colors)):
    c = cols[i % 3]
    r = rows[i // 3]
    leg_patch(c[0], c[1], r, col)
    ftxt(c[2], r, name, va='center')

fig.savefig('out.png', dpi=300)
